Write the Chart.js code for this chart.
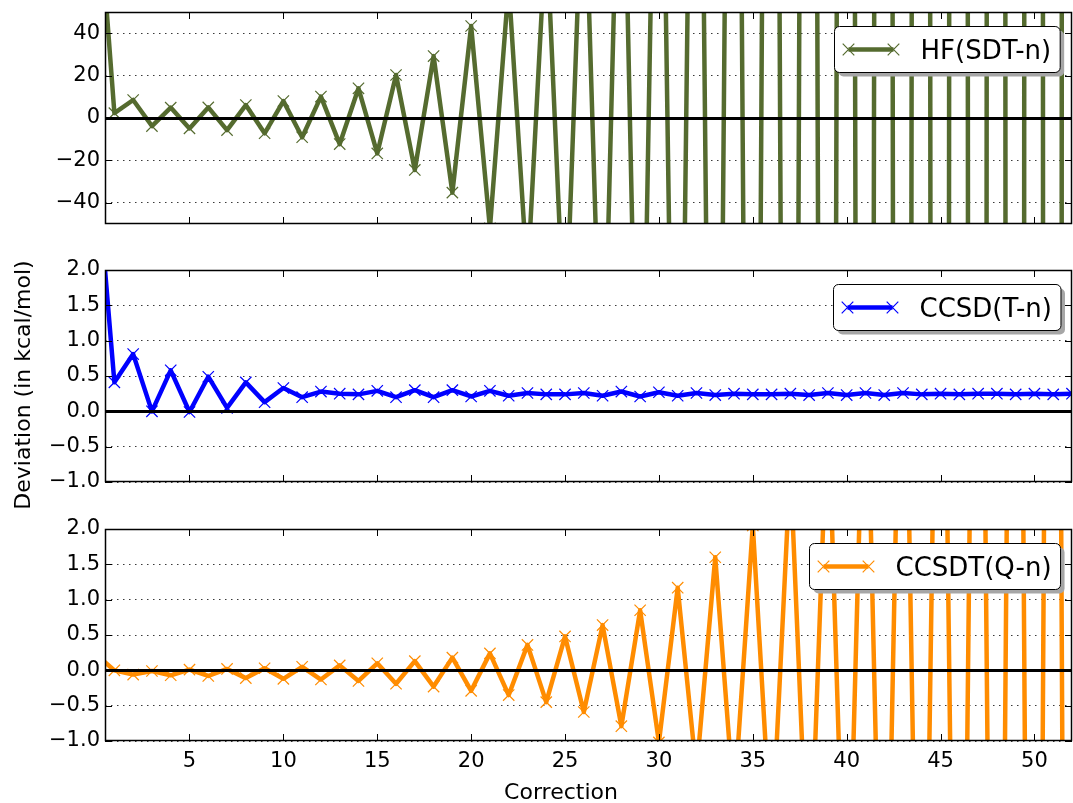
<!DOCTYPE html>
<html>
<head>
<meta charset="utf-8">
<title>Deviation per correction</title>
<script src="https://cdn.jsdelivr.net/npm/chart.js@4.4.1/dist/chart.umd.min.js"></script>
<style>
  html, body { margin: 0; padding: 0; background: #fff; }
  #wrap { position: relative; width: 1073px; height: 803px; }
  #wrap canvas { position: absolute; left: 0; top: 0; }
</style>
</head>
<body>
<div id="wrap">
  <canvas id="hf" width="1073" height="803"></canvas>
  <canvas id="ccsd" width="1073" height="803"></canvas>
  <canvas id="ccsdt" width="1073" height="803"></canvas>
</div>
<script>
// x values (correction order)
const corrections = [0, 1, 2, 3, 4, 5, 6, 7, 8, 9, 10, 11, 12, 13, 14, 15, 16, 17, 18, 19, 20,
  21, 22, 23, 24, 25, 26, 27, 28, 29, 30, 31, 32, 33, 34, 35, 36, 37, 38, 39, 40,
  41, 42, 43, 44, 45, 46, 47, 48, 49, 50, 51, 52];

// deviations in kcal/mol (values outside the window estimated from the slopes)
const hfDeviation = [120, 2.3, 8.5, -3.8, 4.9, -4.9, 5.0, -5.7, 6.1, -7.2, 8.0, -9.1, 10.1, -12.3, 14.0,
  -16.7, 20.3, -24.5, 29.2, -35.2, 43.4, -52, 63, -76, 91, -110, 132, -158, 190, -228, 274,
  -329, 395, -474, 569, -683, 820, -984, 1180, -1416, 1700, -2040, 2450, -2940, 3520, -4230,
  5080, -6090, 7310, -8770, 10500, -12600, 15200];

const ccsdDeviation = [3.6, 0.41, 0.81, 0.0, 0.58, -0.01, 0.49, 0.05, 0.41, 0.13, 0.33, 0.20, 0.28,
  0.25, 0.24, 0.29, 0.20, 0.30, 0.20, 0.30, 0.21, 0.29, 0.22, 0.26, 0.24, 0.24, 0.26, 0.22, 0.28,
  0.21, 0.27, 0.22, 0.26, 0.23, 0.25, 0.24, 0.24, 0.25, 0.23, 0.26, 0.23, 0.26, 0.23, 0.26, 0.24,
  0.25, 0.24, 0.25, 0.25, 0.24, 0.25, 0.24, 0.25];

const ccsdtDeviation = [0.23, 0.0, -0.06, -0.01, -0.07, 0.01, -0.08, 0.02, -0.11, 0.03, -0.12, 0.05,
  -0.13, 0.07, -0.15, 0.10, -0.19, 0.13, -0.23, 0.18, -0.29, 0.24, -0.35, 0.36, -0.45, 0.48, -0.59,
  0.64, -0.79, 0.85, -1.02, 1.17, -1.45, 1.60, -1.9, 2.05, -2.5, 2.9, -3.4, 3.9, -4.6, 5.3, -6.2,
  7.2, -8.4, 9.8, -11.4, 13.2, -15.4, 17.9, -20.8, 24.2, -28];

const xTicks = [5, 10, 15, 20, 25, 30, 35, 40, 45, 50];
const hfTicks = [-40, -20, 0, 20, 40];
const ccTicks = [-1.0, -0.5, 0.0, 0.5, 1.0, 1.5, 2.0];

Chart.defaults.font.family = '"DejaVu Sans", "Bitstream Vera Sans", sans-serif';
Chart.defaults.color = '#000';

const minus = s => s.replace('-', '\u2212');

function cross(ctx, x, y, r) {
  ctx.moveTo(x - r, y - r); ctx.lineTo(x + r, y + r);
  ctx.moveTo(x - r, y + r); ctx.lineTo(x + r, y - r);
}

// frame, inward ticks, zero line, legend box and axis titles
const panelDecor = {
  id: 'panelDecor',
  afterDatasetsDraw(chart, args, opts) {
    const { ctx, chartArea: a, scales: { x, y } } = chart;

    ctx.save();
    ctx.beginPath();
    ctx.rect(a.left, a.top, a.width, a.height);
    ctx.clip();
    const y0 = Math.round(y.getPixelForValue(0)) + 0.5;
    ctx.strokeStyle = '#000';
    ctx.lineWidth = 3;
    ctx.beginPath();
    ctx.moveTo(a.left, y0);
    ctx.lineTo(a.right, y0);
    ctx.stroke();
    ctx.restore();

    ctx.save();
    ctx.strokeStyle = '#000';
    ctx.lineWidth = 1;
    ctx.beginPath();
    x.ticks.forEach(t => {
      const px = Math.round(x.getPixelForValue(t.value)) + 0.5;
      ctx.moveTo(px, a.top); ctx.lineTo(px, a.top + 7);
      ctx.moveTo(px, a.bottom); ctx.lineTo(px, a.bottom - 7);
    });
    y.ticks.forEach(t => {
      const py = Math.round(y.getPixelForValue(t.value)) + 0.5;
      ctx.moveTo(a.left, py); ctx.lineTo(a.left + 7, py);
      ctx.moveTo(a.right, py); ctx.lineTo(a.right - 7, py);
    });
    ctx.stroke();
    ctx.lineWidth = 1.5;
    ctx.strokeRect(a.left + 0.5, a.top + 0.5, a.width - 1, a.height - 1);
    ctx.restore();
  },
  afterDraw(chart, args, opts) {
    const { ctx, chartArea: a } = chart;
    const ds = chart.data.datasets[0];

    ctx.save();
    ctx.font = '26px "DejaVu Sans"';
    const tw = ctx.measureText(ds.label).width;
    const h = 46;
    const w = 14 + 45 + 27 + tw + 9;
    const bx = Math.round(a.right - 12 - w) + 0.5;
    const by = Math.round(a.top + 14) + 0.5;

    ctx.fillStyle = '#a6a6a6';
    ctx.beginPath();
    ctx.roundRect(bx + 4, by + 4, w, h, 5);
    ctx.fill();
    ctx.fillStyle = '#fff';
    ctx.strokeStyle = '#000';
    ctx.lineWidth = 1;
    ctx.beginPath();
    ctx.roundRect(bx, by, w, h, 5);
    ctx.fill();
    ctx.stroke();

    const ly = by + h / 2;
    ctx.strokeStyle = ds.borderColor;
    ctx.lineWidth = 4.5;
    ctx.beginPath();
    ctx.moveTo(bx + 14, ly);
    ctx.lineTo(bx + 59, ly);
    ctx.stroke();
    ctx.lineWidth = 1.2;
    ctx.beginPath();
    cross(ctx, bx + 14, ly, 5.8);
    cross(ctx, bx + 59, ly, 5.8);
    ctx.stroke();

    ctx.fillStyle = '#000';
    ctx.textAlign = 'left';
    ctx.textBaseline = 'alphabetic';
    ctx.fillText(ds.label, bx + 86, ly + 9.5);

    ctx.font = '22px "DejaVu Sans"';
    ctx.textAlign = 'center';
    if (opts.yTitle) {
      ctx.save();
      ctx.translate(opts.yTitle.x, opts.yTitle.y);
      ctx.rotate(-Math.PI / 2);
      ctx.fillText(opts.yTitle.text, 0, 0);
      ctx.restore();
    }
    if (opts.xTitle) {
      ctx.fillText(opts.xTitle.text, opts.xTitle.x, opts.xTitle.y);
    }
    ctx.restore();
  }
};

function makePanel(id, cfg) {
  const points = corrections.map((c, i) => ({ x: c, y: cfg.values[i] }));
  return new Chart(document.getElementById(id), {
    type: 'line',
    data: {
      datasets: [{
        label: cfg.label,
        data: points,
        borderColor: cfg.color,
        backgroundColor: cfg.color,
        borderWidth: 4.5,
        borderJoinStyle: 'round',
        pointStyle: 'crossRot',
        pointRadius: 8,
        pointBorderWidth: 1.2,
        pointBorderColor: cfg.color,
        pointBackgroundColor: cfg.color,
        tension: 0,
        fill: false,
        clip: 0
      }]
    },
    options: {
      responsive: false,
      animation: false,
      events: [],
      devicePixelRatio: 1,
      layout: {
        autoPadding: false,
        padding: { left: 0, right: 1, top: cfg.top, bottom: cfg.bottom }
      },
      plugins: {
        legend: { display: false },
        tooltip: { enabled: false },
        panelDecor: { yTitle: cfg.yTitle, xTitle: cfg.xTitle }
      },
      scales: {
        x: {
          type: 'linear',
          min: 0.5,
          max: 52,
          display: cfg.showX,
          afterBuildTicks: axis => { axis.ticks = xTicks.map(v => ({ value: v })); },
          afterFit: axis => {
            if (cfg.showX) axis.height = 62;
            axis.paddingLeft = 0;
            axis.paddingRight = 0;
          },
          grid: { display: false, drawTicks: false },
          border: { display: false },
          ticks: { padding: 8, font: { size: 21 }, maxRotation: 0, autoSkip: false }
        },
        y: {
          min: cfg.min,
          max: cfg.max,
          afterBuildTicks: axis => { axis.ticks = cfg.ticks.map(v => ({ value: v })); },
          afterFit: axis => {
            axis.width = 105;
            axis.paddingTop = 0;
            axis.paddingBottom = 0;
          },
          grid: { color: '#3a3a3a', lineWidth: 1, drawTicks: false, borderDash: [1.5, 4.5] },
          border: { display: false, dash: [1.5, 4.5] },
          ticks: { padding: 5, font: { size: 21 }, autoSkip: false, callback: cfg.fmt }
        }
      }
    },
    plugins: [panelDecor]
  });
}

makePanel('hf', {
  label: 'HF(SDT-n)', color: '#556b2f', values: hfDeviation,
  min: -50, max: 50, ticks: hfTicks, fmt: v => minus(String(v)),
  top: 12, bottom: 803 - 224, showX: false
});

makePanel('ccsd', {
  label: 'CCSD(T-n)', color: '#0000ff', values: ccsdDeviation,
  min: -1, max: 2, ticks: ccTicks, fmt: v => minus(v.toFixed(1)),
  top: 270, bottom: 803 - 482, showX: false,
  yTitle: { text: 'Deviation (in kcal/mol)', x: 30, y: 385 }
});

makePanel('ccsdt', {
  label: 'CCSDT(Q-n)', color: '#ff8c00', values: ccsdtDeviation,
  min: -1, max: 2, ticks: ccTicks, fmt: v => minus(v.toFixed(1)),
  top: 529, bottom: 0, showX: true,
  xTitle: { text: 'Correction', x: 561, y: 799 }
});
</script>
</body>
</html>
